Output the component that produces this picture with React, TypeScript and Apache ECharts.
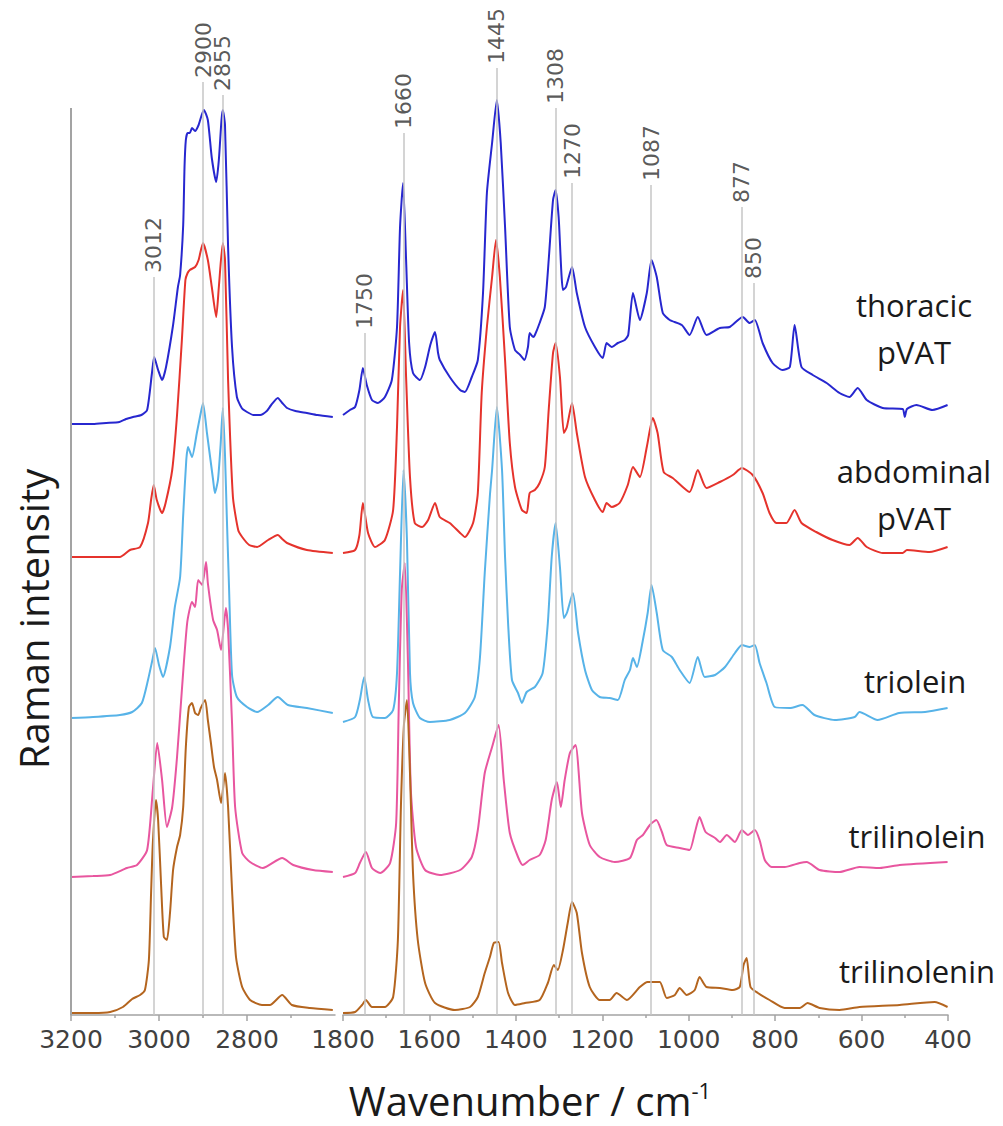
import React, { useEffect, useRef } from "react";
import * as echarts from "echarts";

// ---- Peak annotations (wavenumber, height of the guide line top in a.u.) ----
const peaksHigh = [3012, 2900, 2855];
const peakTopsHigh = [738, 933, 920];
const peaksLow = [1750, 1660, 1445, 1308, 1270, 1087, 877, 850];
const peakTopsLow = [682, 882, 947, 907, 832, 830, 808, 732];

// ---- Axis ticks ----
const highTickLabels = [3200, 3000, 2800];
const axisFrameTop = 907;

// ---- Spectra (wavenumber cm-1, offset intensity a.u.) ----
const thoracicHigh = [
  [3200, 591], [3150, 591], [3120, 592], [3090, 593], [3075, 596], [3059, 598], [3040, 600], [3027, 605],
  [3016, 642], [3011, 658], [3002, 645], [2993, 635], [2984, 648], [2968, 690], [2957, 728], [2952, 740],
  [2945, 790], [2942, 848], [2939, 875], [2935, 882], [2930, 882], [2925, 887], [2918, 884], [2910, 890],
  [2903, 900], [2898, 905], [2889, 895], [2880, 857], [2870, 833], [2864, 855], [2858, 895], [2855, 905],
  [2850, 890], [2843, 768], [2834, 668], [2823, 618], [2812, 607], [2800, 603], [2785, 600], [2770, 600],
  [2755, 604], [2745, 610], [2730, 617], [2720, 612], [2709, 607], [2690, 604], [2664, 602], [2640, 600],
  [2605, 598],
];
const thoracicLow = [
  [1800, 600], [1784, 605], [1772, 608], [1762, 625], [1754, 647], [1745, 630], [1733, 615], [1719, 612],
  [1703, 618], [1687, 635], [1675, 688], [1668, 788], [1661, 832], [1654, 755], [1647, 672], [1638, 642],
  [1622, 635], [1610, 648], [1598, 670], [1587, 683], [1580, 662], [1576, 655], [1553, 638], [1529, 625],
  [1518, 623], [1502, 638], [1488, 655], [1476, 722], [1467, 822], [1455, 872], [1444, 915], [1435, 872],
  [1425, 788], [1414, 688], [1402, 665], [1390, 660], [1380, 655], [1372, 668], [1368, 682], [1360, 678],
  [1356, 680], [1345, 692], [1333, 708], [1324, 755], [1314, 815], [1308, 825], [1301, 798], [1291, 725],
  [1284, 728], [1270, 748], [1259, 722], [1240, 688], [1217, 668], [1199, 657], [1190, 672], [1178, 668],
  [1164, 672], [1148, 675], [1140, 680], [1129, 722], [1113, 695], [1097, 722], [1086, 755], [1074, 738],
  [1060, 702], [1044, 695], [1016, 690], [998, 680], [979, 698], [959, 680], [928, 687], [905, 688],
  [875, 698], [859, 692], [847, 695], [829, 672], [806, 652], [783, 645], [766, 648], [755, 690],
  [739, 648], [713, 640], [681, 632], [651, 622], [628, 618], [609, 627], [588, 615], [551, 607],
  [505, 606], [500, 598], [495, 606], [473, 610], [436, 605], [401, 610],
];

const abdominalHigh = [
  [3200, 458], [3150, 458], [3089, 458], [3066, 465], [3043, 468], [3025, 492], [3018, 515], [3012, 530],
  [3005, 515], [2993, 502], [2985, 512], [2970, 545], [2959, 600], [2948, 675], [2940, 735], [2935, 742],
  [2930, 745], [2918, 748], [2910, 755], [2900, 772], [2889, 755], [2880, 728], [2870, 698], [2864, 728],
  [2855, 772], [2850, 755], [2843, 635], [2832, 518], [2820, 485], [2811, 478], [2795, 470], [2777, 468],
  [2752, 475], [2730, 480], [2720, 476], [2709, 472], [2664, 465], [2605, 462],
];
const abdominalLow = [
  [1800, 462], [1772, 465], [1762, 480], [1754, 512], [1742, 482], [1726, 468], [1703, 475], [1684, 505],
  [1675, 588], [1668, 688], [1661, 725], [1654, 638], [1645, 538], [1634, 492], [1617, 488], [1603, 495],
  [1587, 512], [1576, 498], [1553, 492], [1529, 482], [1518, 478], [1499, 492], [1488, 522], [1479, 622],
  [1467, 688], [1455, 738], [1446, 775], [1437, 738], [1425, 655], [1414, 572], [1402, 528], [1386, 505],
  [1375, 502], [1368, 522], [1356, 525], [1345, 532], [1333, 548], [1324, 605], [1314, 662], [1308, 672],
  [1298, 638], [1289, 582], [1282, 588], [1270, 612], [1259, 582], [1240, 538], [1217, 515], [1199, 503],
  [1190, 512], [1178, 508], [1160, 512], [1141, 530], [1129, 548], [1113, 538], [1097, 568], [1083, 597],
  [1072, 582], [1058, 543], [1037, 537], [998, 523], [979, 545], [959, 527], [928, 533], [898, 540],
  [877, 547], [852, 540], [829, 522], [813, 502], [797, 492], [774, 492], [755, 505], [739, 492],
  [705, 483], [667, 475], [628, 470], [609, 477], [588, 468], [551, 462], [505, 462], [495, 465],
  [443, 463], [401, 468],
];

const trioleinHigh = [
  [3200, 297], [3150, 298], [3089, 300], [3061, 303], [3039, 312], [3025, 335], [3015, 355], [3009, 367],
  [3000, 350], [2991, 338], [2975, 368], [2964, 408], [2952, 438], [2945, 500], [2938, 555], [2934, 568],
  [2925, 558], [2914, 582], [2906, 600], [2900, 612], [2891, 582], [2877, 535], [2873, 522], [2866, 535],
  [2860, 570], [2855, 607], [2850, 560], [2846, 500], [2841, 430], [2834, 340], [2823, 318], [2800, 308],
  [2777, 303], [2752, 310], [2730, 318], [2707, 310], [2664, 307], [2605, 302],
];
const trioleinLow = [
  [1800, 293], [1772, 298], [1761, 315], [1751, 338], [1742, 315], [1731, 298], [1703, 297], [1684, 305],
  [1675, 342], [1668, 442], [1660, 545], [1652, 475], [1645, 342], [1638, 312], [1622, 297], [1599, 293],
  [1553, 295], [1518, 302], [1495, 318], [1483, 358], [1472, 442], [1460, 520], [1455, 545], [1444, 608],
  [1432, 545], [1425, 458], [1418, 392], [1409, 335], [1395, 322], [1386, 312], [1375, 323], [1356, 328],
  [1338, 342], [1326, 392], [1317, 458], [1308, 492], [1298, 448], [1289, 397], [1282, 402], [1268, 422],
  [1256, 382], [1240, 345], [1224, 325], [1206, 318], [1183, 317], [1164, 315], [1148, 335], [1136, 345],
  [1129, 357], [1120, 348], [1106, 375], [1095, 402], [1086, 430], [1074, 402], [1060, 365], [1039, 358],
  [1021, 345], [998, 332], [979, 358], [963, 338], [939, 340], [916, 348], [893, 362], [877, 370],
  [859, 368], [847, 370], [836, 352], [820, 332], [801, 308], [766, 307], [737, 310], [709, 300],
  [662, 295], [616, 298], [605, 303], [563, 295], [513, 302], [453, 303], [401, 307],
];

const trilinoleinHigh = [
  [3200, 138], [3150, 139], [3111, 140], [3073, 147], [3050, 150], [3027, 165], [3014, 225], [3004, 272],
  [2993, 235], [2982, 188], [2970, 208], [2959, 258], [2948, 325], [2936, 392], [2925, 413], [2918, 408],
  [2911, 435], [2902, 430], [2893, 453], [2889, 432], [2877, 395], [2868, 385], [2859, 365], [2848, 407],
  [2843, 385], [2834, 292], [2827, 208], [2811, 162], [2793, 153], [2764, 147], [2720, 157], [2695, 150],
  [2650, 145], [2605, 143],
];
const trilinoleinLow = [
  [1800, 138], [1772, 142], [1761, 152], [1747, 163], [1733, 147], [1714, 142], [1691, 152], [1677, 192],
  [1671, 308], [1664, 425], [1657, 452], [1650, 358], [1643, 225], [1631, 168], [1610, 145], [1576, 140],
  [1529, 145], [1502, 158], [1488, 185], [1472, 242], [1455, 268], [1440, 290], [1428, 235], [1414, 182],
  [1395, 158], [1384, 150], [1368, 155], [1345, 160], [1331, 175], [1317, 215], [1305, 233], [1296, 208],
  [1287, 235], [1275, 262], [1262, 270], [1247, 202], [1229, 170], [1206, 158], [1171, 153], [1136, 157],
  [1120, 175], [1106, 180], [1090, 190], [1075, 195], [1062, 183], [1051, 170], [1021, 167], [998, 165],
  [986, 182], [975, 198], [961, 183], [939, 177], [928, 173], [912, 180], [893, 173], [877, 185],
  [863, 180], [847, 185], [836, 175], [824, 155], [808, 148], [778, 148], [743, 152], [727, 153],
  [697, 145], [651, 143], [605, 148], [558, 147], [512, 150], [401, 153],
];

const trilinoleninHigh = [
  [3200, 2], [3150, 2], [3111, 3], [3082, 8], [3061, 16], [3043, 20], [3032, 25], [3023, 55],
  [3018, 122], [3014, 172], [3007, 215], [3002, 195], [2995, 128], [2989, 78], [2982, 75], [2975, 102],
  [2968, 145], [2959, 168], [2952, 180], [2945, 208], [2939, 268], [2932, 308], [2925, 312], [2918, 302],
  [2911, 300], [2905, 307], [2895, 315], [2889, 295], [2882, 272], [2875, 248], [2868, 235], [2859, 212],
  [2850, 242], [2843, 208], [2834, 125], [2825, 58], [2811, 28], [2793, 15], [2766, 10], [2748, 10],
  [2720, 20], [2698, 10], [2657, 7], [2605, 5],
];
const trilinoleninLow = [
  [1800, 2], [1772, 3], [1756, 10], [1747, 15], [1733, 8], [1703, 8], [1684, 18], [1673, 75],
  [1666, 208], [1659, 290], [1652, 315], [1645, 242], [1638, 142], [1627, 75], [1610, 32], [1587, 12],
  [1541, 5], [1506, 8], [1488, 18], [1472, 42], [1460, 58], [1451, 72], [1440, 73], [1432, 52],
  [1418, 22], [1402, 10], [1379, 12], [1345, 15], [1326, 32], [1312, 50], [1303, 45], [1291, 65],
  [1280, 92], [1270, 113], [1259, 102], [1247, 62], [1229, 28], [1206, 15], [1183, 15], [1167, 22],
  [1143, 15], [1113, 28], [1095, 33], [1067, 33], [1051, 17], [1032, 20], [1021, 27], [1005, 20],
  [986, 25], [975, 38], [959, 28], [928, 27], [898, 25], [882, 28], [873, 50], [866, 57],
  [857, 28], [840, 22], [813, 15], [778, 7], [743, 7], [725, 12], [697, 7], [651, 5],
  [605, 8], [512, 10], [431, 13], [401, 8],
];

const spectra = [
  { name: "thoracic pVAT", color: "#2727cf", high: thoracicHigh, low: thoracicLow },
  { name: "abdominal pVAT", color: "#e5332c", high: abdominalHigh, low: abdominalLow },
  { name: "triolein", color: "#57b3e8", high: trioleinHigh, low: trioleinLow },
  { name: "trilinolein", color: "#e8569f", high: trilinoleinHigh, low: trilinoleinLow },
  { name: "trilinolenin", color: "#b4651f", high: trilinoleninHigh, low: trilinoleninLow },
];

const AXIS_GRAY = "#a3a3a3";
const GUIDE_GRAY = "#c6c6c6";
const NUM_FONT = "'DejaVu Sans', Verdana, sans-serif";
const TEXT_FONT = "'Open Sans', sans-serif";

function xAxisCfg(gridIndex: number, min: number, max: number, custom?: number[]) {
  return {
    type: "value",
    gridIndex,
    min,
    max,
    interval: 200,
    inverse: true,
    axisLine: { show: true, onZero: false, lineStyle: { color: AXIS_GRAY, width: 1.5 } },
    axisTick: {
      show: true,
      length: 6,
      lineStyle: { color: AXIS_GRAY, width: 1.5 },
      ...(custom ? { customValues: custom } : {}),
    },
    minorTick: { show: true, splitNumber: 2, length: 3, lineStyle: { color: AXIS_GRAY, width: 1.5 } },
    axisLabel: {
      fontFamily: NUM_FONT,
      fontSize: 25,
      color: "#404040",
      margin: 12,
      formatter: (v: number) => String(v),
      ...(custom ? { customValues: custom } : {}),
    },
    splitLine: { show: false },
    minorSplitLine: { show: false },
  };
}

function yAxisCfg(gridIndex: number) {
  return { type: "value", gridIndex, min: 0, max: 1010, show: false };
}

function guideSeries(idx: number, peaks: number[], tops: number[], withFrame: boolean) {
  const lines: any[] = peaks.map((p, i) => [{ coord: [p, 0] }, { coord: [p, tops[i]] }]);
  if (withFrame) {
    lines.push([
      { coord: [3200, 0], lineStyle: { color: AXIS_GRAY, width: 2 } },
      { coord: [3200, axisFrameTop] },
    ]);
  }
  return {
    type: "line",
    xAxisIndex: idx,
    yAxisIndex: idx,
    data: [[peaks[0], 0]],
    showSymbol: false,
    lineStyle: { opacity: 0 },
    silent: true,
    z: 1,
    markLine: {
      silent: true,
      symbol: ["none", "none"],
      label: { show: false },
      lineStyle: { color: GUIDE_GRAY, width: 1.5, type: "solid" },
      emphasis: { disabled: true },
      data: lines,
    },
  };
}

function peakLabelSeries(idx: number, peaks: number[], tops: number[]) {
  return {
    type: "scatter",
    xAxisIndex: idx,
    yAxisIndex: idx,
    data: peaks.map((p, i) => [p, tops[i]]),
    symbolSize: 0,
    itemStyle: { color: "transparent" },
    silent: true,
    z: 5,
    label: {
      show: true,
      position: "top",
      distance: 4,
      rotate: 90,
      align: "left",
      verticalAlign: "middle",
      fontFamily: NUM_FONT,
      fontSize: 22,
      color: "#2e2e2e",
      formatter: (p: any) => String(p.value[0]),
    },
  };
}

export default function App() {
  const ref = useRef<HTMLDivElement>(null);
  useEffect(() => {
    document.body.style.margin = "0";
    if (!ref.current) return;
    const chart = echarts.init(ref.current, null, { renderer: "svg" });

    const curveSeries: any[] = [];
    spectra.forEach((s) => {
      [
        { idx: 0, data: s.high },
        { idx: 1, data: s.low },
      ].forEach(({ idx, data }) => {
        curveSeries.push({
          name: s.name,
          type: "line",
          xAxisIndex: idx,
          yAxisIndex: idx,
          data,
          showSymbol: false,
          symbol: "none",
          smooth: 0.2,
          z: 3,
          lineStyle: { color: s.color, width: 2 },
          emphasis: { disabled: true },
        });
      });
    });

    const nameText = (text: string, x: number, y: number) => ({
      type: "text",
      x,
      y,
      silent: true,
      style: {
        text,
        fontFamily: TEXT_FONT,
        fontSize: 31,
        fill: "#1a1a1a",
        align: "center",
        textAlign: "center",
        verticalAlign: "middle",
        textVerticalAlign: "middle",
        lineHeight: 47,
      },
    });

    chart.setOption({
      animation: false,
      backgroundColor: "#ffffff",
      grid: [
        { left: 71, top: 5, width: 264, height: 1010 },
        { left: 343, top: 5, width: 605, height: 1010 },
      ],
      xAxis: [xAxisCfg(0, 2600, 3200, highTickLabels), xAxisCfg(1, 400, 1800)],
      yAxis: [yAxisCfg(0), yAxisCfg(1)],
      series: [
        guideSeries(0, peaksHigh, peakTopsHigh, true),
        guideSeries(1, peaksLow, peakTopsLow, false),
        ...curveSeries,
        peakLabelSeries(0, peaksHigh, peakTopsHigh),
        peakLabelSeries(1, peaksLow, peakTopsLow),
      ],
      graphic: [
        nameText("thoracic\npVAT", 914, 328),
        nameText("abdominal\npVAT", 914, 494),
        nameText("triolein", 915, 681),
        nameText("trilinolein", 917, 836),
        nameText("trilinolenin", 917, 971),
        {
          type: "text",
          x: 33,
          y: 619,
          rotation: Math.PI / 2,
          silent: true,
          style: {
            text: "Raman intensity",
            fontFamily: TEXT_FONT,
            fontSize: 40,
            fill: "#1a1a1a",
            align: "center",
            textAlign: "center",
            verticalAlign: "middle",
            textVerticalAlign: "middle",
          },
        },
        {
          type: "text",
          x: 530,
          y: 1100,
          silent: true,
          style: {
            text: "{a|Wavenumber / cm}{b|-1}",
            align: "center",
            textAlign: "center",
            verticalAlign: "middle",
            textVerticalAlign: "middle",
            rich: {
              a: { fontFamily: TEXT_FONT, fontSize: 40, lineHeight: 42, fill: "#1a1a1a", color: "#1a1a1a" },
              b: { fontFamily: TEXT_FONT, fontSize: 22, fill: "#1a1a1a", color: "#1a1a1a", verticalAlign: "top" },
            },
          },
        },
      ],
    });
    return () => chart.dispose();
  }, []);
  return <div ref={ref} style={{ width: 1003, height: 1126 }} />;
}
